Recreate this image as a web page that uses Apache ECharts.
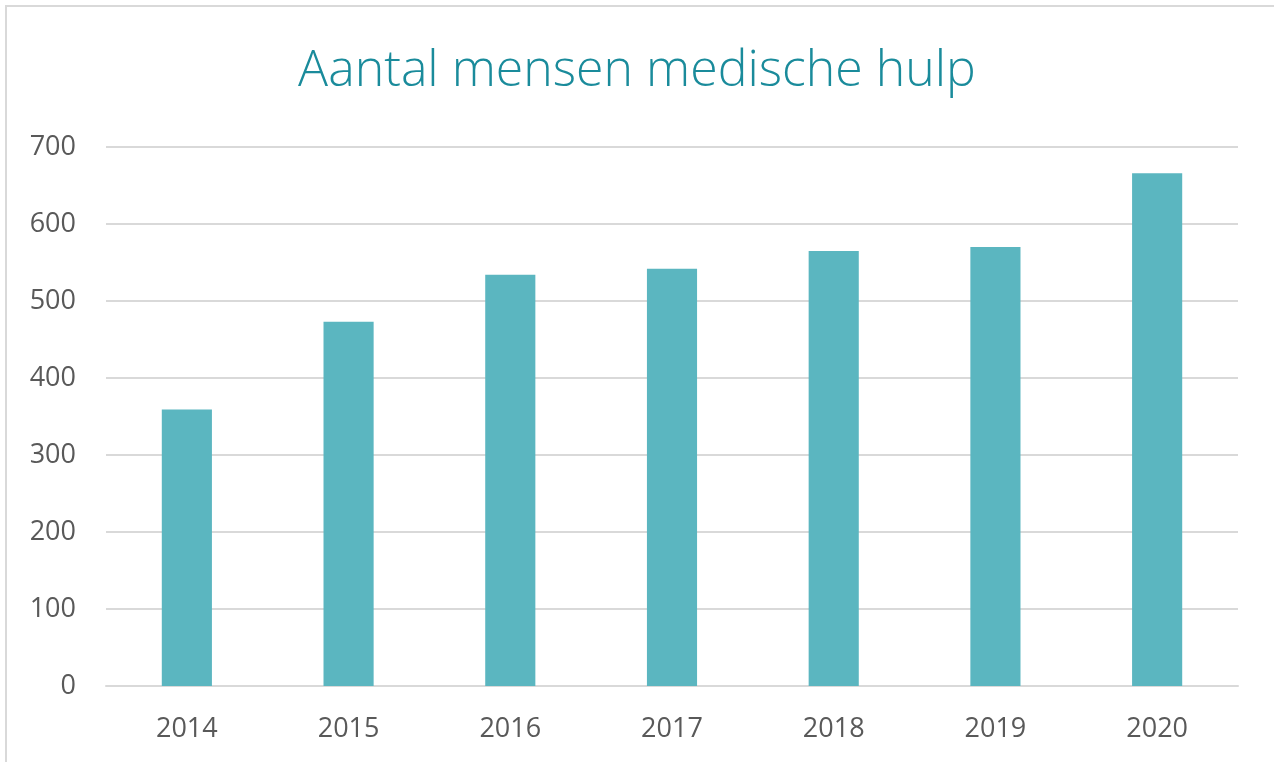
<!DOCTYPE html>
<html>
<head>
<meta charset="utf-8">
<script src="https://cdn.jsdelivr.net/npm/echarts@6/dist/echarts.min.js"></script>
<style>
  html, body { margin: 0; padding: 0; background: #fff; }
  #container { width: 1274px; height: 762px; }
</style>
</head>
<body>
<div id="container"></div>
<script>
// data
var years = ['2014', '2015', '2016', '2017', '2018', '2019', '2020'];
var aantal = [359, 473, 534, 542, 565, 570, 666];
var yTicks = { min: 0, max: 700, interval: 100 };

var dom = document.getElementById('container');
var myChart = echarts.init(dom);

var option = {
	backgroundColor: '#ffffff',
	animation: false,
	title: {
		text: 'Aantal mensen medische hulp',
		left: 'center',
		top: 42,
		textStyle: {
			color: '#1a8b9b',
			fontFamily: 'Open Sans',
			fontWeight: 300,
			fontSize: 50
		}
	},
	graphic: [{
		// chart-area border (only left/top visible in the crop)
		type: 'rect',
		shape: { x: 6, y: 6, width: 1300, height: 800 },
		style: { fill: 'none', stroke: '#d9d9d9', lineWidth: 2 },
		silent: true
	}],
	grid: {
		left: 106,
		right: 36,
		top: 147,
		bottom: 76
	},
	xAxis: {
		type: 'category',
		data: years,
		axisTick: { show: false },
		axisLine: { lineStyle: { color: '#d9d9d9', width: 2 } },
		axisLabel: {
			color: '#595959',
			fontFamily: 'Open Sans',
			fontSize: 27,
			margin: 30
		}
	},
	yAxis: {
		type: 'value',
		min: yTicks.min,
		max: yTicks.max,
		interval: yTicks.interval,
		axisLine: { show: false },
		axisTick: { show: false },
		splitLine: { lineStyle: { color: '#d9d9d9', width: 2 } },
		axisLabel: {
			color: '#595959',
			fontFamily: 'Open Sans',
			fontSize: 27,
			margin: 30
		}
	},
	series: [{
		name: 'Aantal',
		type: 'bar',
		data: aantal,
		barWidth: '31%',
		itemStyle: { color: '#5bb6c0' }
	}]
};

if (option && typeof option === 'object') {
	myChart.setOption(option, true);
}
</script>
</body>
</html>
